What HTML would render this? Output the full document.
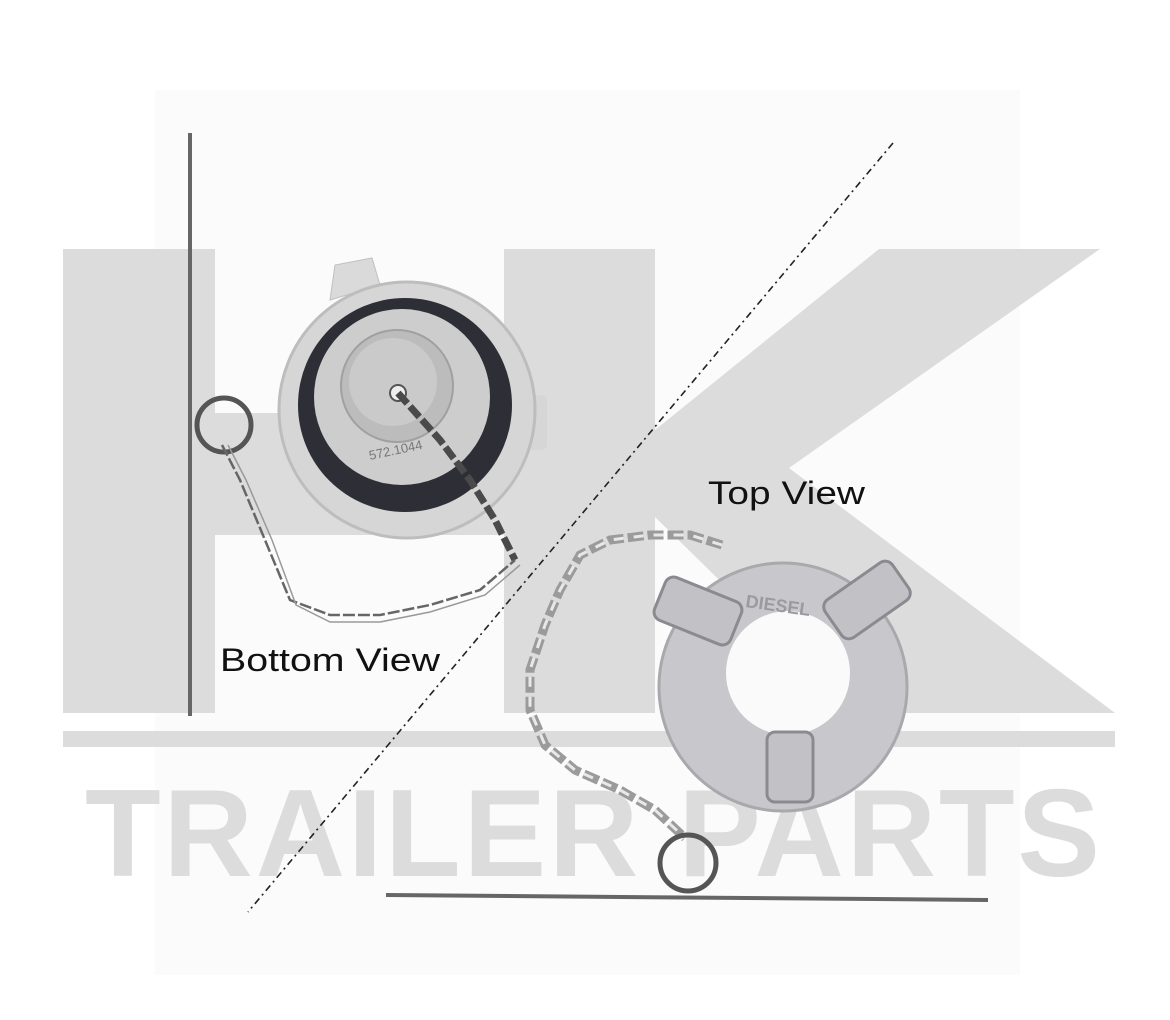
<!DOCTYPE html>
<html><head><meta charset="utf-8"><style>
html,body{margin:0;padding:0;background:#fff;}
svg{display:block;}
</style></head><body>
<svg width="1170" height="1020" viewBox="0 0 1170 1020" xmlns="http://www.w3.org/2000/svg">
<rect width="1170" height="1020" fill="#fff"/>
<rect x="155" y="90" width="865" height="885" fill="#fbfbfb"/>
<!-- watermark -->
<g fill="#dcdcdc">
<rect x="63" y="249" width="152" height="464"/>
<rect x="215" y="413" width="290" height="122"/>
<rect x="504" y="249" width="151" height="464"/>
<polygon points="655,430 879,249 1100,249 789,468 1115,713 855,713 655,517"/>
<rect x="63" y="731" width="1052" height="16"/>
</g>
<text x="85" y="876" font-family="Liberation Sans, sans-serif" font-weight="bold" font-size="124" fill="#dcdcdc" textLength="1015" lengthAdjust="spacing">TRAILER PARTS</text>
<!-- dashed line -->
<line x1="893" y1="143" x2="248" y2="912" stroke="#222" stroke-width="1.6" stroke-dasharray="7,4,2,4"/>
<!-- left rod -->
<line x1="190" y1="133" x2="190" y2="716" stroke="#666" stroke-width="4"/>
<circle cx="224" cy="425" r="27" fill="none" stroke="#555" stroke-width="5"/>
<!-- bottom cap -->
<g>
<path d="M330 300 L335 265 L372 258 L380 285 Z" fill="#dadada" stroke="#c0c0c0"/>
<rect x="525" y="395" width="22" height="55" rx="6" fill="#d6d6d6"/>
<circle cx="407" cy="410" r="128" fill="#d6d6d6" stroke="#bdbdbd" stroke-width="3"/>
<circle cx="405" cy="405" r="107" fill="#2e2f36"/>
<circle cx="402" cy="397" r="88" fill="#cdcdcd"/>
<circle cx="397" cy="386" r="56" fill="#bcbcbc" stroke="#a0a0a0" stroke-width="2"/>
<circle cx="393" cy="382" r="44" fill="#cacaca"/>
<circle cx="398" cy="393" r="8" fill="#eee" stroke="#555" stroke-width="2"/>
<text x="370" y="460" font-family="Liberation Sans, sans-serif" font-size="13" fill="#777" transform="rotate(-12 370 460)">572.1044</text>
</g>
<!-- chain on bottom cap -->
<polyline points="398,393 440,440 470,480 495,520 515,560" fill="none" stroke="#4a4a4a" stroke-width="7" stroke-dasharray="14,4"/>
<polyline points="222,445 240,480 265,540 290,600 330,615 380,615 430,605 480,590 515,560" fill="none" stroke="#666" stroke-width="2.5" stroke-dasharray="12,3"/>
<polyline points="228,445 246,480 272,540 296,605 330,622 380,622 430,612 485,595 520,565" fill="none" stroke="#999" stroke-width="1.5"/>
<!-- top cap -->
<g>
<circle cx="783" cy="687" r="124" fill="#c8c8cc" stroke="#a9a9ad" stroke-width="3"/>
<circle cx="788" cy="673" r="62" fill="#fafafa"/>
<rect x="657" y="588" width="82" height="46" rx="9" fill="#c2c2c6" stroke="#8a8a90" stroke-width="3" transform="rotate(22 698 611)"/>
<rect x="826" y="577" width="82" height="46" rx="9" fill="#c2c2c6" stroke="#8a8a90" stroke-width="3" transform="rotate(-35 867 600)"/>
<rect x="767" y="732" width="46" height="70" rx="8" fill="#c2c2c6" stroke="#8a8a90" stroke-width="3"/>
<text x="745" y="607" font-family="Liberation Sans, sans-serif" font-weight="bold" font-size="18" fill="#9a9aa0" transform="rotate(8 745 607)">DIESEL</text>
</g>
<!-- top chain -->
<polyline points="722,545 690,535 650,535 610,540 580,555 560,590 545,625 530,670 530,710 545,745 575,770 620,790 655,810 685,838" fill="none" stroke="#9b9b9b" stroke-width="9" stroke-dasharray="16,4"/>
<polyline points="722,545 690,535 650,535 610,540 580,555 560,590 545,625 530,670 530,710 545,745 575,770 620,790 655,810 685,838" fill="none" stroke="#e8e8e8" stroke-width="3" stroke-dasharray="10,10"/>
<!-- bottom rod -->
<circle cx="688" cy="863" r="28" fill="none" stroke="#555" stroke-width="5"/>
<line x1="386" y1="895" x2="988" y2="900" stroke="#666" stroke-width="4"/>
<!-- labels -->
<text x="708" y="504" font-family="Liberation Sans, sans-serif" font-size="32" fill="#111" textLength="157" lengthAdjust="spacingAndGlyphs">Top View</text>
<text x="220" y="671" font-family="Liberation Sans, sans-serif" font-size="32" fill="#111" textLength="220" lengthAdjust="spacingAndGlyphs">Bottom View</text>
</svg>
</body></html>
